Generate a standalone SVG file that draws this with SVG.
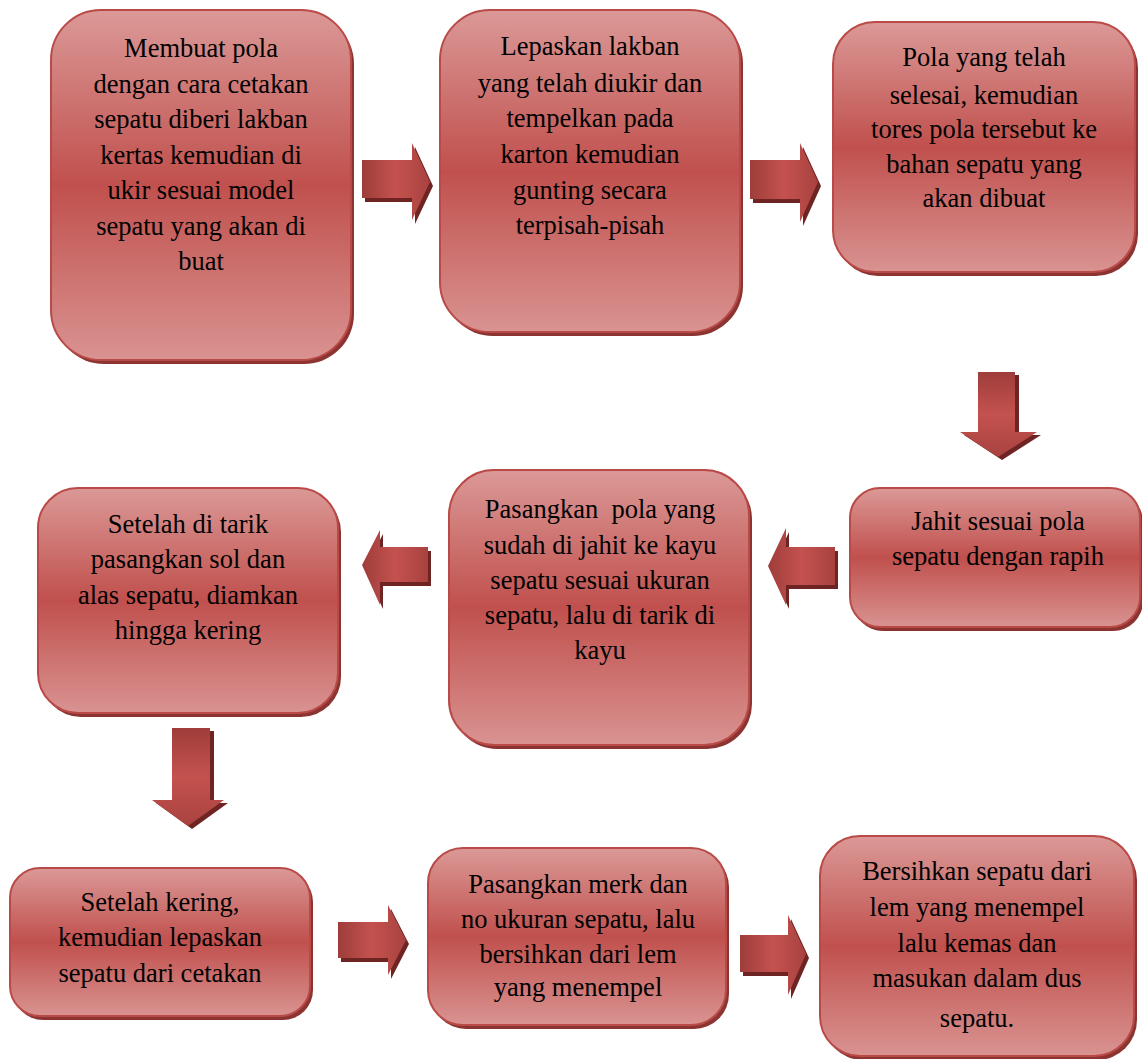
<svg xmlns="http://www.w3.org/2000/svg" width="1142" height="1059" viewBox="0 0 1142 1059">
<defs>
<linearGradient id="ng" x1="0" y1="0" x2="0" y2="1">
<stop offset="0" stop-color="#db9997"/>
<stop offset="0.5" stop-color="#c0504d"/>
<stop offset="1" stop-color="#d99391"/>
</linearGradient>
<linearGradient id="ah" x1="0" y1="0" x2="1" y2="0">
<stop offset="0" stop-color="#9e3d3a"/>
<stop offset="0.5" stop-color="#c4524f"/>
<stop offset="1" stop-color="#a8423f"/>
</linearGradient>
<linearGradient id="av" x1="0" y1="0" x2="0" y2="1">
<stop offset="0" stop-color="#9e3d3a"/>
<stop offset="0.5" stop-color="#c4524f"/>
<stop offset="1" stop-color="#a8423f"/>
</linearGradient>
<style>
.n{fill:url(#ng);stroke:#b94a47;stroke-width:2}
.s{fill:#8c3431}
.ash{fill:#6e2422}
.ah{fill:url(#ah)}
.av{fill:url(#av)}
.t text{font-size:26.5px;fill:#000;text-anchor:middle}
</style>
</defs>
<rect width="1142" height="1059" fill="#fff"/>
<g id="connectors">
<g id="a1"><path class="ash" transform="translate(3,4)" d="M362,160H412V143L430,182L412,220V198H362Z"/><path class="ah" d="M362,160H412V143L430,182L412,220V198H362Z"/></g>
<g id="a2"><path class="ash" transform="translate(3,4)" d="M750,160H800V143L818,182L800,222V199H750Z"/><path class="ah" d="M750,160H800V143L818,182L800,222V199H750Z"/></g>
<g id="a3"><path class="ash" transform="translate(4,3)" d="M978,372H1015V432H1037L998,457L960,432H978Z"/><path class="av" d="M978,372H1015V432H1037L998,457L960,432H978Z"/></g>
<g id="a4"><path class="ash" transform="translate(3,4)" d="M835,547H786V528L768,566L786,605V585H835Z"/><path class="ah" d="M835,547H786V528L768,566L786,605V585H835Z"/></g>
<g id="a5"><path class="ash" transform="translate(3,4)" d="M428,547H380V530L362,565L380,605V582H428Z"/><path class="ah" d="M428,547H380V530L362,565L380,605V582H428Z"/></g>
<g id="a6"><path class="ash" transform="translate(4,3)" d="M172,728H210V800H224L188,826L152,800H172Z"/><path class="av" d="M172,728H210V800H224L188,826L152,800H172Z"/></g>
<g id="a7"><path class="ash" transform="translate(3,4)" d="M338,922H388V905L406,940L388,975V958H338Z"/><path class="ah" d="M338,922H388V905L406,940L388,975V958H338Z"/></g>
<g id="a8"><path class="ash" transform="translate(3,4)" d="M740,935H788V915L806,954L788,995V972H740Z"/><path class="ah" d="M740,935H788V915L806,954L788,995V972H740Z"/></g>
</g>
<g class="t" font-family="'Liberation Serif', 'Times New Roman', serif">
<g id="n1"><rect class="s" x="54" y="14" width="300" height="350" rx="50"/><rect class="n" x="51" y="10" width="300" height="350" rx="50"/>
<text x="201" y="57">Membuat pola</text><text x="201" y="93">dengan cara cetakan</text><text x="201" y="128">sepatu diberi lakban</text><text x="201" y="164">kertas kemudian di</text><text x="201" y="199">ukir sesuai model</text><text x="201" y="235">sepatu yang akan di</text><text x="201" y="270">buat</text></g>
<g id="n2"><rect class="s" x="443" y="14" width="300" height="322" rx="50"/><rect class="n" x="440" y="10" width="300" height="322" rx="50"/>
<text x="590" y="55">Lepaskan lakban</text><text x="590" y="92">yang telah diukir dan</text><text x="590" y="127">tempelkan pada</text><text x="590" y="163">karton kemudian</text><text x="590" y="199">gunting secara</text><text x="590" y="234">terpisah-pisah</text></g>
<g id="n3"><rect class="s" x="836" y="26" width="302" height="250" rx="42"/><rect class="n" x="833" y="22" width="302" height="250" rx="42"/>
<text x="984" y="66">Pola yang telah</text><text x="984" y="104">selesai, kemudian</text><text x="984" y="138">tores pola tersebut ke</text><text x="984" y="173">bahan sepatu yang</text><text x="984" y="207">akan dibuat</text></g>
<g id="n4"><rect class="s" x="853" y="492" width="290" height="139" rx="30"/><rect class="n" x="850" y="488" width="290" height="139" rx="30"/>
<text x="998" y="530">Jahit sesuai pola</text><text x="998" y="565">sepatu dengan rapih</text></g>
<g id="n5"><rect class="s" x="452" y="474" width="300" height="275" rx="45"/><rect class="n" x="449" y="470" width="300" height="275" rx="45"/>
<text x="600" y="518">Pasangkan&#160; pola yang</text><text x="600" y="554">sudah di jahit ke kayu</text><text x="600" y="589">sepatu sesuai ukuran</text><text x="600" y="624">sepatu, lalu di tarik di</text><text x="600" y="659">kayu</text></g>
<g id="n6"><rect class="s" x="41" y="492" width="300" height="225" rx="40"/><rect class="n" x="38" y="488" width="300" height="225" rx="40"/>
<text x="188" y="533">Setelah di tarik</text><text x="188" y="568">pasangkan sol dan</text><text x="188" y="604">alas sepatu, diamkan</text><text x="188" y="639">hingga kering</text></g>
<g id="n7"><rect class="s" x="13" y="872" width="300" height="148" rx="30"/><rect class="n" x="10" y="868" width="300" height="148" rx="30"/>
<text x="160" y="911">Setelah kering,</text><text x="160" y="946">kemudian lepaskan</text><text x="160" y="982">sepatu dari cetakan</text></g>
<g id="n8"><rect class="s" x="431" y="852" width="298" height="177" rx="35"/><rect class="n" x="428" y="848" width="298" height="177" rx="35"/>
<text x="578" y="893">Pasangkan merk dan</text><text x="578" y="928">no ukuran sepatu, lalu</text><text x="578" y="963">bersihkan dari lem</text><text x="578" y="996">yang menempel</text></g>
<g id="n9"><rect class="s" x="823" y="840" width="314" height="220" rx="40"/><rect class="n" x="820" y="836" width="314" height="220" rx="40"/>
<text x="977" y="880">Bersihkan sepatu dari</text><text x="977" y="916">lem yang menempel</text><text x="977" y="952">lalu kemas dan</text><text x="977" y="987">masukan dalam dus</text><text x="977" y="1027">sepatu.</text></g>
</g>
</svg>
